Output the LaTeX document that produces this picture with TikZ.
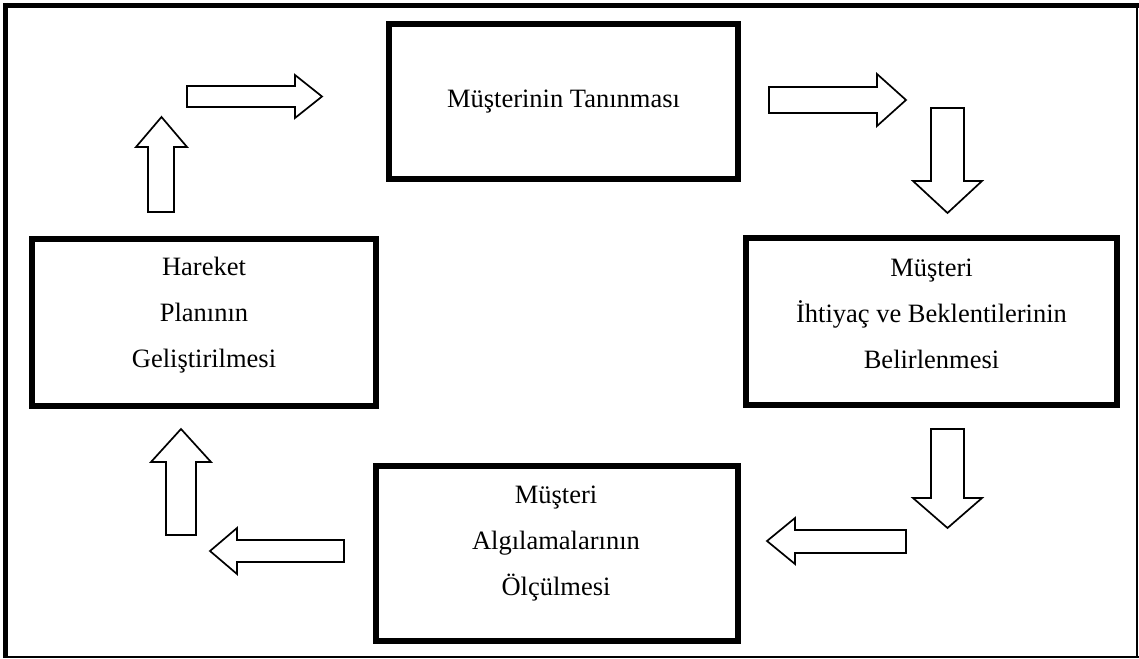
\documentclass[tikz,border=0pt]{standalone}
\usepackage{fontspec}
\setmainfont{Liberation Serif}
\begin{document}
\begin{tikzpicture}[x=1pt,y=-1pt,
  stagebox/.style={draw=black,line width=6.4pt,inner sep=0pt,outer sep=0pt,fill=white},
  stagetext/.style={align=center,inner sep=0pt,font=\fontsize{26.5}{46}\selectfont},
  blockarrow/.style={draw=black,line width=1.7pt,fill=white,line join=miter}]
\useasboundingbox (0,0) rectangle (1139,658);
\fill[white] (0,0) rectangle (1139,658);
% outer frame
\draw[line width=5pt] (3,5.5) -- (1138.5,5.5);
\draw[line width=5pt] (5.5,3) -- (5.5,658);
\draw[line width=2pt] (1137,3) -- (1137,658);
\draw[line width=2pt] (3,657) -- (1138.5,657);
% boxes
\node[stagebox,minimum width=348.6pt,minimum height=154.6pt] (top) at (563.5,101.5) {};
\node[stagebox,minimum width=370.6pt,minimum height=166.6pt] (right) at (931.5,321.5) {};
\node[stagebox,minimum width=343.6pt,minimum height=166.6pt] (left) at (204,322.5) {};
\node[stagebox,minimum width=361.6pt,minimum height=174.6pt] (bottom) at (557,553.5) {};
% texts
\node[stagetext] (toptext) at (563.5,102) {Müşterinin Tanınması};
\node[stagetext] (righttext) at (931.5,313.5) {Müşteri\\İhtiyaç ve Beklentilerinin\\Belirlenmesi};
\node[stagetext] (lefttext) at (204,315) {Hareket\\Planının\\Geliştirilmesi};
\node[stagetext] (bottomtext) at (556,543.5) {Müşteri\\Algılamalarının\\Ölçülmesi};
% block arrows
% top-left right arrow
\draw[blockarrow] (187,86) -- (295,86) -- (295,75) -- (322,96.5) -- (295,118) -- (295,107) -- (187,107) -- cycle;
% top-right right arrow
\draw[blockarrow] (769,87) -- (877,87) -- (877,74) -- (906,100) -- (877,126) -- (877,113) -- (769,113) -- cycle;
% top-right down arrow
\draw[blockarrow] (931,108) -- (964,108) -- (964,181) -- (982,181) -- (947.5,213) -- (913,181) -- (931,181) -- cycle;
% bottom-right down arrow
\draw[blockarrow] (931,429) -- (964,429) -- (964,498) -- (982,498) -- (947.5,528) -- (913,498) -- (931,498) -- cycle;
% bottom-right left arrow
\draw[blockarrow] (906,530) -- (795,530) -- (795,518) -- (767,541) -- (795,564) -- (795,553) -- (906,553) -- cycle;
% bottom-left left arrow
\draw[blockarrow] (344,540) -- (237,540) -- (237,528) -- (210,551) -- (237,574) -- (237,562) -- (344,562) -- cycle;
% bottom-left up arrow
\draw[blockarrow] (166,535) -- (166,462) -- (151,462) -- (181,429) -- (211,462) -- (196,462) -- (196,535) -- cycle;
% top-left up arrow
\draw[blockarrow] (148,212) -- (148,147) -- (136,147) -- (161.5,117) -- (187,147) -- (174,147) -- (174,212) -- cycle;
\end{tikzpicture}
\end{document}
